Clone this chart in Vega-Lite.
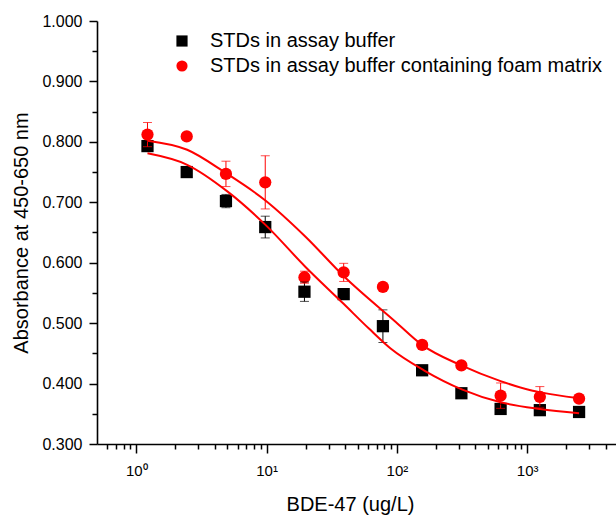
{
  "$schema": "https://vega.github.io/schema/vega-lite/v6.json",
  "autosize": {"type": "none"},
  "padding": {"left": 97, "top": 21, "right": 0, "bottom": 71},
  "width": 519,
  "height": 423,
  "config": {
    "font": "Liberation Sans",
    "view": {"stroke": null}
  },
  "datasets": {
    "pts": [
      {"series": "STDs in assay buffer", "conc": 1.22, "abs": 0.793, "lo": 0.785, "hi": 0.801},
      {"series": "STDs in assay buffer", "conc": 2.44, "abs": 0.750, "lo": 0.746, "hi": 0.754},
      {"series": "STDs in assay buffer", "conc": 4.88, "abs": 0.702, "lo": 0.691, "hi": 0.713},
      {"series": "STDs in assay buffer", "conc": 9.77, "abs": 0.659, "lo": 0.641, "hi": 0.677},
      {"series": "STDs in assay buffer", "conc": 19.53, "abs": 0.552, "lo": 0.536, "hi": 0.568},
      {"series": "STDs in assay buffer", "conc": 39.06, "abs": 0.548, "lo": 0.542, "hi": 0.554},
      {"series": "STDs in assay buffer", "conc": 78.13, "abs": 0.495, "lo": 0.468, "hi": 0.522},
      {"series": "STDs in assay buffer", "conc": 156.25, "abs": 0.422, "lo": 0.418, "hi": 0.426},
      {"series": "STDs in assay buffer", "conc": 312.5, "abs": 0.384, "lo": 0.379, "hi": 0.389},
      {"series": "STDs in assay buffer", "conc": 625, "abs": 0.358, "lo": 0.350, "hi": 0.366},
      {"series": "STDs in assay buffer", "conc": 1250, "abs": 0.356, "lo": 0.350, "hi": 0.362},
      {"series": "STDs in assay buffer", "conc": 2500, "abs": 0.353, "lo": 0.348, "hi": 0.358},
      {"series": "STDs in assay buffer containing foam matrix", "conc": 1.22, "abs": 0.812, "lo": 0.792, "hi": 0.832},
      {"series": "STDs in assay buffer containing foam matrix", "conc": 2.44, "abs": 0.809, "lo": 0.806, "hi": 0.812},
      {"series": "STDs in assay buffer containing foam matrix", "conc": 4.88, "abs": 0.747, "lo": 0.726, "hi": 0.768},
      {"series": "STDs in assay buffer containing foam matrix", "conc": 9.77, "abs": 0.733, "lo": 0.689, "hi": 0.777},
      {"series": "STDs in assay buffer containing foam matrix", "conc": 19.53, "abs": 0.576, "lo": 0.566, "hi": 0.586},
      {"series": "STDs in assay buffer containing foam matrix", "conc": 39.06, "abs": 0.584, "lo": 0.569, "hi": 0.599},
      {"series": "STDs in assay buffer containing foam matrix", "conc": 78.13, "abs": 0.560, "lo": 0.556, "hi": 0.564},
      {"series": "STDs in assay buffer containing foam matrix", "conc": 156.25, "abs": 0.464, "lo": 0.460, "hi": 0.468},
      {"series": "STDs in assay buffer containing foam matrix", "conc": 312.5, "abs": 0.430, "lo": 0.426, "hi": 0.434},
      {"series": "STDs in assay buffer containing foam matrix", "conc": 625, "abs": 0.380, "lo": 0.359, "hi": 0.401},
      {"series": "STDs in assay buffer containing foam matrix", "conc": 1250, "abs": 0.378, "lo": 0.361, "hi": 0.395},
      {"series": "STDs in assay buffer containing foam matrix", "conc": 2500, "abs": 0.375, "lo": 0.372, "hi": 0.378}
    ],
    "fit": [
      {"fit": "buffer", "conc": 1.22, "abs": 0.781},
      {"fit": "buffer", "conc": 2.46, "abs": 0.762},
      {"fit": "buffer", "conc": 5.0, "abs": 0.718},
      {"fit": "buffer", "conc": 9.77, "abs": 0.663},
      {"fit": "buffer", "conc": 19.9, "abs": 0.593},
      {"fit": "buffer", "conc": 39, "abs": 0.532},
      {"fit": "buffer", "conc": 61, "abs": 0.491},
      {"fit": "buffer", "conc": 89.5, "abs": 0.458},
      {"fit": "buffer", "conc": 161, "abs": 0.422},
      {"fit": "buffer", "conc": 318, "abs": 0.390},
      {"fit": "buffer", "conc": 625, "abs": 0.369},
      {"fit": "buffer", "conc": 1250, "abs": 0.358},
      {"fit": "buffer", "conc": 2500, "abs": 0.351},
      {"fit": "foam", "conc": 1.22, "abs": 0.802},
      {"fit": "foam", "conc": 2.46, "abs": 0.787},
      {"fit": "foam", "conc": 4.9, "abs": 0.748},
      {"fit": "foam", "conc": 9.8, "abs": 0.703},
      {"fit": "foam", "conc": 19.9, "abs": 0.643},
      {"fit": "foam", "conc": 39, "abs": 0.578},
      {"fit": "foam", "conc": 98, "abs": 0.502},
      {"fit": "foam", "conc": 156, "abs": 0.464},
      {"fit": "foam", "conc": 312, "abs": 0.430},
      {"fit": "foam", "conc": 625, "abs": 0.404},
      {"fit": "foam", "conc": 1062, "abs": 0.389},
      {"fit": "foam", "conc": 1306, "abs": 0.385},
      {"fit": "foam", "conc": 2425, "abs": 0.376}
    ]
  },
  "encoding": {
    "x": {
      "field": "conc", "type": "quantitative",
      "scale": {"type": "log", "domain": [0.5, 4800], "nice": false},
      "axis": {
        "orient": "bottom", "grid": false, "ticks": true,
        "values": [0.6, 0.7, 0.8, 0.9, 1, 2, 3, 4, 5, 6, 7, 8, 9, 10, 20, 30, 40, 50, 60, 70, 80, 90, 100, 200, 300, 400, 500, 600, 700, 800, 900, 1000, 2000, 3000, 4000],
        "labelExpr": "datum.value == 1 ? '10⁰' : datum.value == 10 ? '10¹' : datum.value == 100 ? '10²' : datum.value == 1000 ? '10³' : ''",
        "labelFontSize": 15, "labelBaseline": "alphabetic", "labelPadding": 22, "labelColor": "#000000",
        "tickSize": {"condition": {"test": "indexof([1, 10, 100, 1000], datum.value) >= 0", "value": 9}, "value": 5},
        "tickWidth": 1.5, "tickColor": "#000000", "domainWidth": 1.6, "domainColor": "#000000",
        "title": "BDE-47 (ug/L)", "titleFontSize": 20, "titleFontWeight": "normal", "titleColor": "#000000",
        "titleX": 253, "titleY": 66, "titleAlign": "center", "titleBaseline": "alphabetic"
      }
    },
    "y": {
      "type": "quantitative",
      "scale": {"domain": [0.3, 1.0], "nice": false, "zero": false},
      "axis": {
        "orient": "left", "grid": false, "ticks": true,
        "values": [0.3, 0.35, 0.4, 0.45, 0.5, 0.55, 0.6, 0.65, 0.7, 0.75, 0.8, 0.85, 0.9, 0.95, 1.0],
        "labelExpr": "round(datum.value * 100) % 10 == 0 ? format(datum.value, '.3f') : ''",
        "labelFontSize": 16, "labelPadding": 7, "labelColor": "#000000",
        "tickSize": {"condition": {"test": "round(datum.value * 100) % 10 == 0", "value": 8}, "value": 5},
        "tickWidth": 1.5, "tickColor": "#000000", "domainWidth": 1.6, "domainColor": "#000000",
        "title": "Absorbance at 450-650 nm", "titleFontSize": 20, "titleFontWeight": "normal", "titleColor": "#000000",
        "titlePadding": 10
      }
    }
  },
  "layer": [
    {
      "data": {"name": "pts"},
      "mark": {"type": "point", "filled": true, "size": 150, "opacity": 1},
      "encoding": {
        "y": {"field": "abs", "type": "quantitative"},
        "color": {
          "field": "series", "type": "nominal",
          "scale": {"domain": ["STDs in assay buffer", "STDs in assay buffer containing foam matrix"], "range": ["#000000", "#FF0000"]},
          "legend": {"title": null, "orient": "none", "legendX": 75, "legendY": 10, "padding": 0, "symbolSize": 125, "symbolStrokeWidth": 0, "labelFontSize": 20, "labelColor": "#000000", "labelLimit": 600, "labelOffset": 18, "rowPadding": 5}
        },
        "shape": {
          "field": "series", "type": "nominal",
          "scale": {"domain": ["STDs in assay buffer", "STDs in assay buffer containing foam matrix"], "range": ["square", "circle"]},
          "legend": {"title": null, "orient": "none", "legendX": 75, "legendY": 10, "padding": 0, "symbolSize": 125, "symbolStrokeWidth": 0, "labelFontSize": 20, "labelColor": "#000000", "labelLimit": 600, "labelOffset": 18, "rowPadding": 5}
        }
      }
    },
    {
      "data": {"name": "pts"},
      "mark": {"type": "rule", "strokeWidth": 1},
      "encoding": {
        "y": {"field": "lo", "type": "quantitative"},
        "y2": {"field": "hi"},
        "color": {"field": "series", "type": "nominal", "legend": null}
      }
    },
    {
      "data": {"name": "pts"},
      "mark": {"type": "tick", "orient": "horizontal", "size": 9, "thickness": 1},
      "encoding": {
        "y": {"field": "lo", "type": "quantitative"},
        "color": {"field": "series", "type": "nominal", "legend": null}
      }
    },
    {
      "data": {"name": "pts"},
      "mark": {"type": "tick", "orient": "horizontal", "size": 9, "thickness": 1},
      "encoding": {
        "y": {"field": "hi", "type": "quantitative"},
        "color": {"field": "series", "type": "nominal", "legend": null}
      }
    },
    {
      "data": {"name": "fit"},
      "mark": {"type": "line", "color": "#FF0000", "strokeWidth": 2, "interpolate": "monotone"},
      "encoding": {
        "y": {"field": "abs", "type": "quantitative"},
        "detail": {"field": "fit", "type": "nominal"}
      }
    }
  ]
}
